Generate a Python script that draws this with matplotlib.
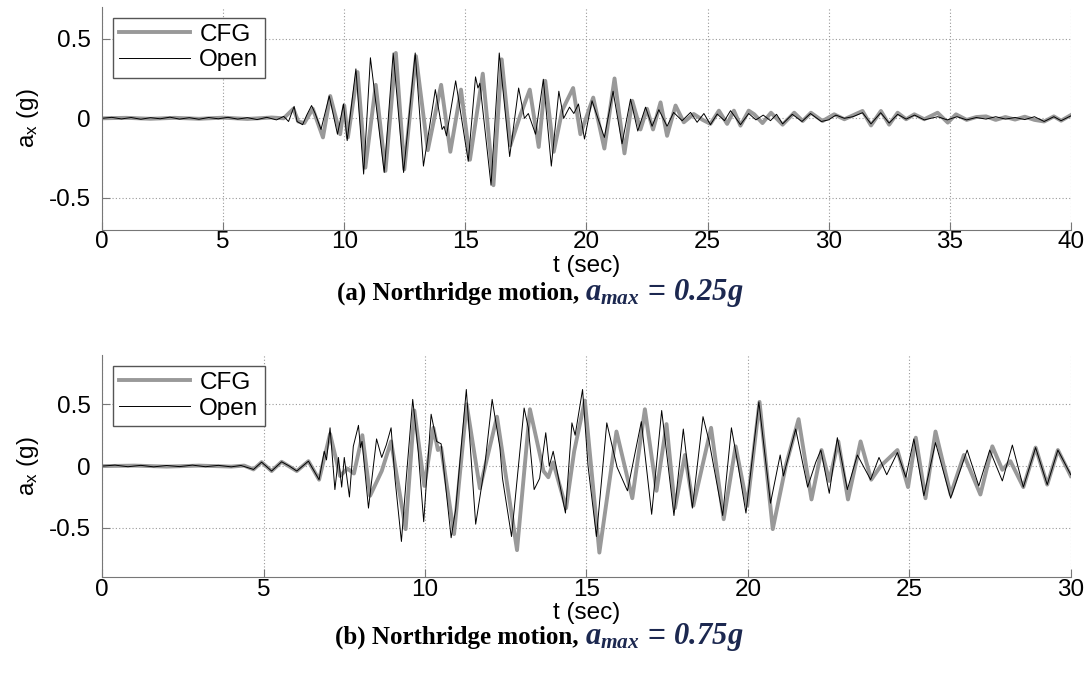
import numpy as np
import matplotlib
matplotlib.use("Agg")
import matplotlib.pyplot as plt

plt.rcParams['font.family'] = ['Liberation Sans', 'DejaVu Sans']
plt.rcParams['axes.unicode_minus'] = False
plt.rcParams['mathtext.fontset'] = 'custom'
plt.rcParams['mathtext.rm'] = 'Liberation Serif:bold:italic'
plt.rcParams['mathtext.it'] = 'Liberation Serif:bold:italic'
plt.rcParams['mathtext.bf'] = 'Liberation Serif:bold:italic'

# (a) Northridge 0.25g -- peaks / troughs
t_open_a = [0, 0.4, 0.8, 1.2, 1.6, 2.0, 2.4, 2.8, 3.2, 3.6, 4.0, 4.4, 4.8, 5.2, 5.6, 6.0, 6.4, 6.8, 7.2, 7.5, 7.7,
            7.93, 8.05, 8.28, 8.45, 8.65, 8.8, 9.04, 9.38, 9.72, 9.97, 10.12, 10.48, 10.8, 11.08, 11.65, 12.02,
            12.45, 12.93, 13.27, 13.76, 14.04, 14.12, 14.22, 14.6, 15.12, 15.42, 15.52, 15.6, 16.06, 16.4, 16.83,
            17.2, 17.44, 17.6, 17.9, 18.22, 18.55, 18.86, 19.06, 19.3, 19.48, 19.67, 19.92, 20.23, 20.74, 21.1,
            21.47, 21.82, 22.12, 22.44, 22.71, 22.99, 23.33, 23.6, 23.95, 24.3, 24.57, 24.85, 25.12, 25.4, 25.7,
            25.95, 26.36, 26.7, 27.0, 27.3, 27.6, 27.85, 28.1, 28.5, 28.9, 29.25, 29.7, 30.0, 30.3, 30.65, 31.0,
            31.4, 31.75, 32.15, 32.5, 32.85, 33.2, 33.55, 33.95, 34.5, 34.9, 35.3, 35.7, 36.1, 36.5, 36.9, 37.3,
            37.7, 38.1, 38.5, 38.9, 39.3, 39.6, 40.0]
a_open_a = [0, 0.006, -0.004, 0.005, -0.006, 0.004, -0.003, 0.007, -0.005, 0.004, -0.006, 0.005, -0.003, 0.006,
            -0.005, 0.004, -0.008, 0.006, -0.01, 0.012, -0.02,
            0.075, -0.02, -0.04, 0.02, 0.08, 0.03, -0.07, 0.14, -0.1, 0.09, -0.14, 0.31, -0.35, 0.38, -0.34, 0.41,
            -0.34, 0.41, -0.30, 0.18, -0.07, -0.05, -0.11, 0.235, -0.27, 0.26, 0.19, 0.22, -0.42, 0.41, -0.24,
            0.19, 0.0, 0.03, -0.1, 0.245, -0.30, 0.17, 0.0, 0.07, 0.03, 0.09, -0.13, 0.11, -0.12, 0.17,
            -0.16, 0.12, -0.08, 0.07, -0.05, 0.054, -0.05, 0.037, -0.015, 0.037, -0.025, 0.03, -0.04, 0.027, -0.015,
            0.048, -0.04, 0.03, -0.01, 0.02, -0.015, 0.025, -0.035, 0.025, -0.02, 0.03, -0.02, -0.01, 0.02, 0.0, 0.01,
            0.035, -0.035, 0.035, -0.03, 0.025, -0.005, 0.02, -0.01, 0.01, -0.01, 0.01, -0.01, 0.005, -0.005, 0.01,
            -0.005, 0.005, -0.008, 0.01, -0.02, 0.01, -0.015, 0.015]

t_cfg_a = [0, 1, 2, 3, 4, 5, 6, 7, 7.5, 7.9, 8.1, 8.35, 8.7, 9.12, 9.42, 9.83, 10.0, 10.15, 10.55, 10.87, 11.3,
           11.7, 12.13, 12.48, 12.96, 13.45, 14.0, 14.38, 14.82, 15.19, 15.72, 16.16, 16.5, 16.86, 17.27, 17.66,
           18.03, 18.3, 18.65, 19.0, 19.45, 19.75, 20.28, 20.74, 21.16, 21.57, 21.89, 22.23, 22.5, 22.75, 23.06,
           23.33, 23.68, 24.02, 24.43, 24.8, 25.12, 25.47, 25.81, 26.09, 26.36, 26.7, 26.93, 27.27, 27.62, 28.1,
           28.58, 28.93, 29.27, 29.75, 30.23, 30.65, 31.4, 31.75, 32.16, 32.5, 32.85, 33.2, 33.54, 33.95, 34.5,
           34.92, 35.26, 35.7, 36.1, 36.5, 36.9, 37.3, 37.7, 38.1, 38.5, 38.9, 39.3, 39.6, 40.0]
a_cfg_a = [0, 0.003, -0.003, 0.003, -0.003, 0.004, -0.004, 0.005, 0.0, 0.06, -0.02, -0.03, 0.06, -0.12, 0.14,
           -0.10, 0.08, -0.12, 0.29, -0.31, 0.21, -0.33, 0.41, -0.32, 0.39, -0.20, 0.21, -0.21, 0.18, -0.26, 0.28,
           -0.42, 0.37, -0.17, 0.02, 0.18, -0.18, 0.235, -0.21, 0.05, 0.19, -0.1, 0.13, -0.19, 0.25, -0.22, 0.11,
           -0.07, 0.06, -0.07, 0.1, -0.11, 0.08, -0.025, 0.027, -0.01, -0.035, 0.048, -0.035, 0.048, -0.046, 0.048,
           0.025, -0.03, 0.035, -0.04, 0.035, -0.017, 0.035, -0.017, 0.025, -0.006, 0.046, -0.045, 0.046, -0.04,
           0.035, -0.006, 0.025, -0.006, 0.035, -0.027, 0.025, -0.01, 0.008, 0.012, -0.01, 0.008, -0.008, 0.01,
           -0.01, -0.02, 0.012, -0.015, 0.02]

# (b) Northridge 0.75g
t_open_b = [0, 0.4, 0.8, 1.2, 1.6, 2.0, 2.4, 2.8, 3.2, 3.6, 4.0, 4.3, 4.69, 4.94, 5.25, 5.56, 5.8, 6.03, 6.39, 6.72,
            6.88, 6.95, 7.06, 7.21, 7.32, 7.42, 7.5, 7.66, 7.78, 7.94, 8.0, 8.05, 8.25, 8.5, 8.66, 8.8, 8.95, 9.07,
            9.27, 9.42, 9.62, 9.79, 9.96, 10.19, 10.36, 10.5, 10.81, 10.95, 11.28, 11.57, 11.85, 12.08, 12.32, 12.4,
            12.68, 13.07, 13.2, 13.38, 13.55, 13.74, 13.85, 13.97, 14.35, 14.55, 14.65, 14.88, 15.05, 15.31, 15.63,
            15.95, 16.27, 16.7, 17.02, 17.33, 17.71, 18.0, 18.28, 18.61, 18.8, 19.22, 19.49, 19.7, 19.94, 20.34,
            20.7, 21.0, 21.1, 21.48, 21.85, 22.1, 22.26, 22.52, 22.77, 23.08, 23.39, 23.8, 24.06, 24.3, 24.63,
            24.89, 25.14, 25.45, 25.81, 26.28, 26.79, 27.15, 27.49, 27.88, 28.19, 28.53, 28.91, 29.27, 29.6, 30.0]
a_open_b = [0, 0.008, -0.005, 0.006, -0.006, 0.005, -0.004, 0.008, -0.005, 0.006, -0.006, 0.005, -0.027, 0.032,
            -0.04, 0.035, 0.0, -0.04, 0.04, -0.11, 0.12, 0.05, 0.31, -0.19, 0.07, -0.17, 0.07, -0.25, 0.16, 0.33,
            0.15, 0.2, -0.34, 0.22, 0.07, 0.17, 0.31, -0.1, -0.61, -0.1, 0.54, 0.12, -0.45, 0.42, 0.20, 0.18,
            -0.58, -0.35, 0.62, -0.47, 0.0, 0.54, 0.15, -0.1, -0.57, 0.47, 0.31, -0.19, -0.1, 0.27, 0.0, 0.12,
            -0.38, 0.35, 0.25, 0.62, 0.0, -0.57, 0.35, -0.01, -0.2, 0.36, -0.39, 0.45, -0.40, 0.30, -0.34, 0.40,
            0.2, -0.40, 0.31, 0.0, -0.38, 0.52, -0.3, 0.09, -0.08, 0.30, -0.17, 0.03, 0.13, -0.22, 0.23, -0.19,
            0.09, -0.11, 0.07, -0.07, 0.11, -0.09, 0.22, -0.24, 0.19, -0.26, 0.13, -0.16, 0.13, -0.12, 0.17,
            -0.17, 0.15, -0.15, 0.13, -0.07]

t_cfg_b = [0, 1, 2, 3, 4, 4.4, 4.69, 4.94, 5.25, 5.56, 6.03, 6.39, 6.72, 7.06, 7.37, 7.6, 7.8, 8.06, 8.3, 8.66,
           8.95, 9.4, 9.67, 9.98, 10.26, 10.4, 10.5, 10.9, 11.29, 11.7, 12.23, 12.85, 13.25, 13.67, 13.82, 13.97,
           14.37, 14.62, 14.95, 15.4, 15.93, 16.42, 16.81, 17.17, 17.48, 17.74, 18.05, 18.31, 18.86, 19.25, 19.62,
           19.98, 20.36, 20.77, 21.18, 21.57, 21.97, 22.28, 22.52, 22.8, 23.1, 23.49, 23.82, 24.11, 24.63, 24.96,
           25.2, 25.5, 25.81, 26.28, 26.69, 27.2, 27.57, 27.88, 28.13, 28.53, 28.91, 29.27, 29.6, 30.0]
a_cfg_b = [0, 0.004, -0.004, 0.004, -0.004, 0.004, -0.027, 0.032, -0.04, 0.035, -0.04, 0.04, -0.11, 0.26, -0.08,
           -0.02, -0.06, 0.25, -0.24, -0.04, 0.2, -0.51, 0.45, -0.16, 0.31, 0.13, 0.15, -0.55, 0.50, -0.18, 0.40,
           -0.68, 0.46, -0.04, -0.09, 0.03, -0.34, 0.12, 0.53, -0.70, 0.28, -0.26, 0.46, -0.2, 0.34, -0.34, 0.09,
           -0.32, 0.31, -0.43, 0.16, -0.32, 0.52, -0.51, 0.01, 0.38, -0.27, 0.13, -0.12, 0.2, -0.27, 0.20, -0.11,
           0.0, 0.13, -0.17, 0.23, -0.26, 0.28, -0.23, 0.09, -0.23, 0.16, -0.03, 0.04, -0.17, 0.15, -0.15, 0.13,
           -0.08]

fig = plt.figure(figsize=(10.86, 6.76), dpi=100)
ax1 = fig.add_axes([0.094, 0.66, 0.892, 0.33])
ax2 = fig.add_axes([0.094, 0.146, 0.892, 0.329])

panels = [(ax1, t_cfg_a, a_cfg_a, t_open_a, a_open_a, 40, 0.7),
          (ax2, t_cfg_b, a_cfg_b, t_open_b, a_open_b, 30, 0.9)]

for ax, tc, ac, to, ao, tmax, ylim in panels:
    ax.plot(tc, ac, color='#999999', lw=2.8, label='CFG', solid_joinstyle='round')
    ax.plot(to, ao, color='black', lw=0.7, label='Open')
    ax.set_xlim(0, tmax)
    ax.set_ylim(-ylim, ylim)
    ax.set_xticks(np.arange(0, tmax + 1, 5))
    ax.set_yticks([-0.5, 0, 0.5])
    ax.set_yticklabels(['-0.5', '0', '0.5'])
    ax.grid(True, linestyle=(0, (1, 2)), color='#999999', lw=0.8)
    for s in ['top', 'right']:
        ax.spines[s].set_visible(False)
    for s in ['left', 'bottom']:
        ax.spines[s].set_color('#777777')
    ax.tick_params(direction='in', length=6, color='#777777', labelsize=17.5, pad=1)
    ax.tick_params(axis='y', pad=8)
    ax.set_xlabel('t (sec)', fontsize=17.5, labelpad=1)
    ax.set_ylabel(r'a$_{\mathregular{x}}$ (g)', fontsize=17.5, labelpad=6)
    leg = ax.legend(loc='upper left', fontsize=17.5, fancybox=False, handlelength=2.9,
                    borderaxespad=0.45, borderpad=0.25, labelspacing=0.15, handletextpad=0.4,
                    edgecolor='#555555', framealpha=1)
    leg.get_frame().set_linewidth(1.0)

cap_kw = dict(family='Liberation Serif', weight='bold', fontsize=18, va='center')
fig.text(0.539, 0.566, '(a) Northridge motion, ', ha='right', **cap_kw)
fig.text(0.539, 0.566, r'$a_{max}$ = $0.25g$', ha='left', color='#1c2850', fontsize=22, va='center')
fig.text(0.539, 0.057, '(b) Northridge motion, ', ha='right', **cap_kw)
fig.text(0.539, 0.057, r'$a_{max}$ = $0.75g$', ha='left', color='#1c2850', fontsize=22, va='center')

fig.savefig('out.png', dpi=100)
